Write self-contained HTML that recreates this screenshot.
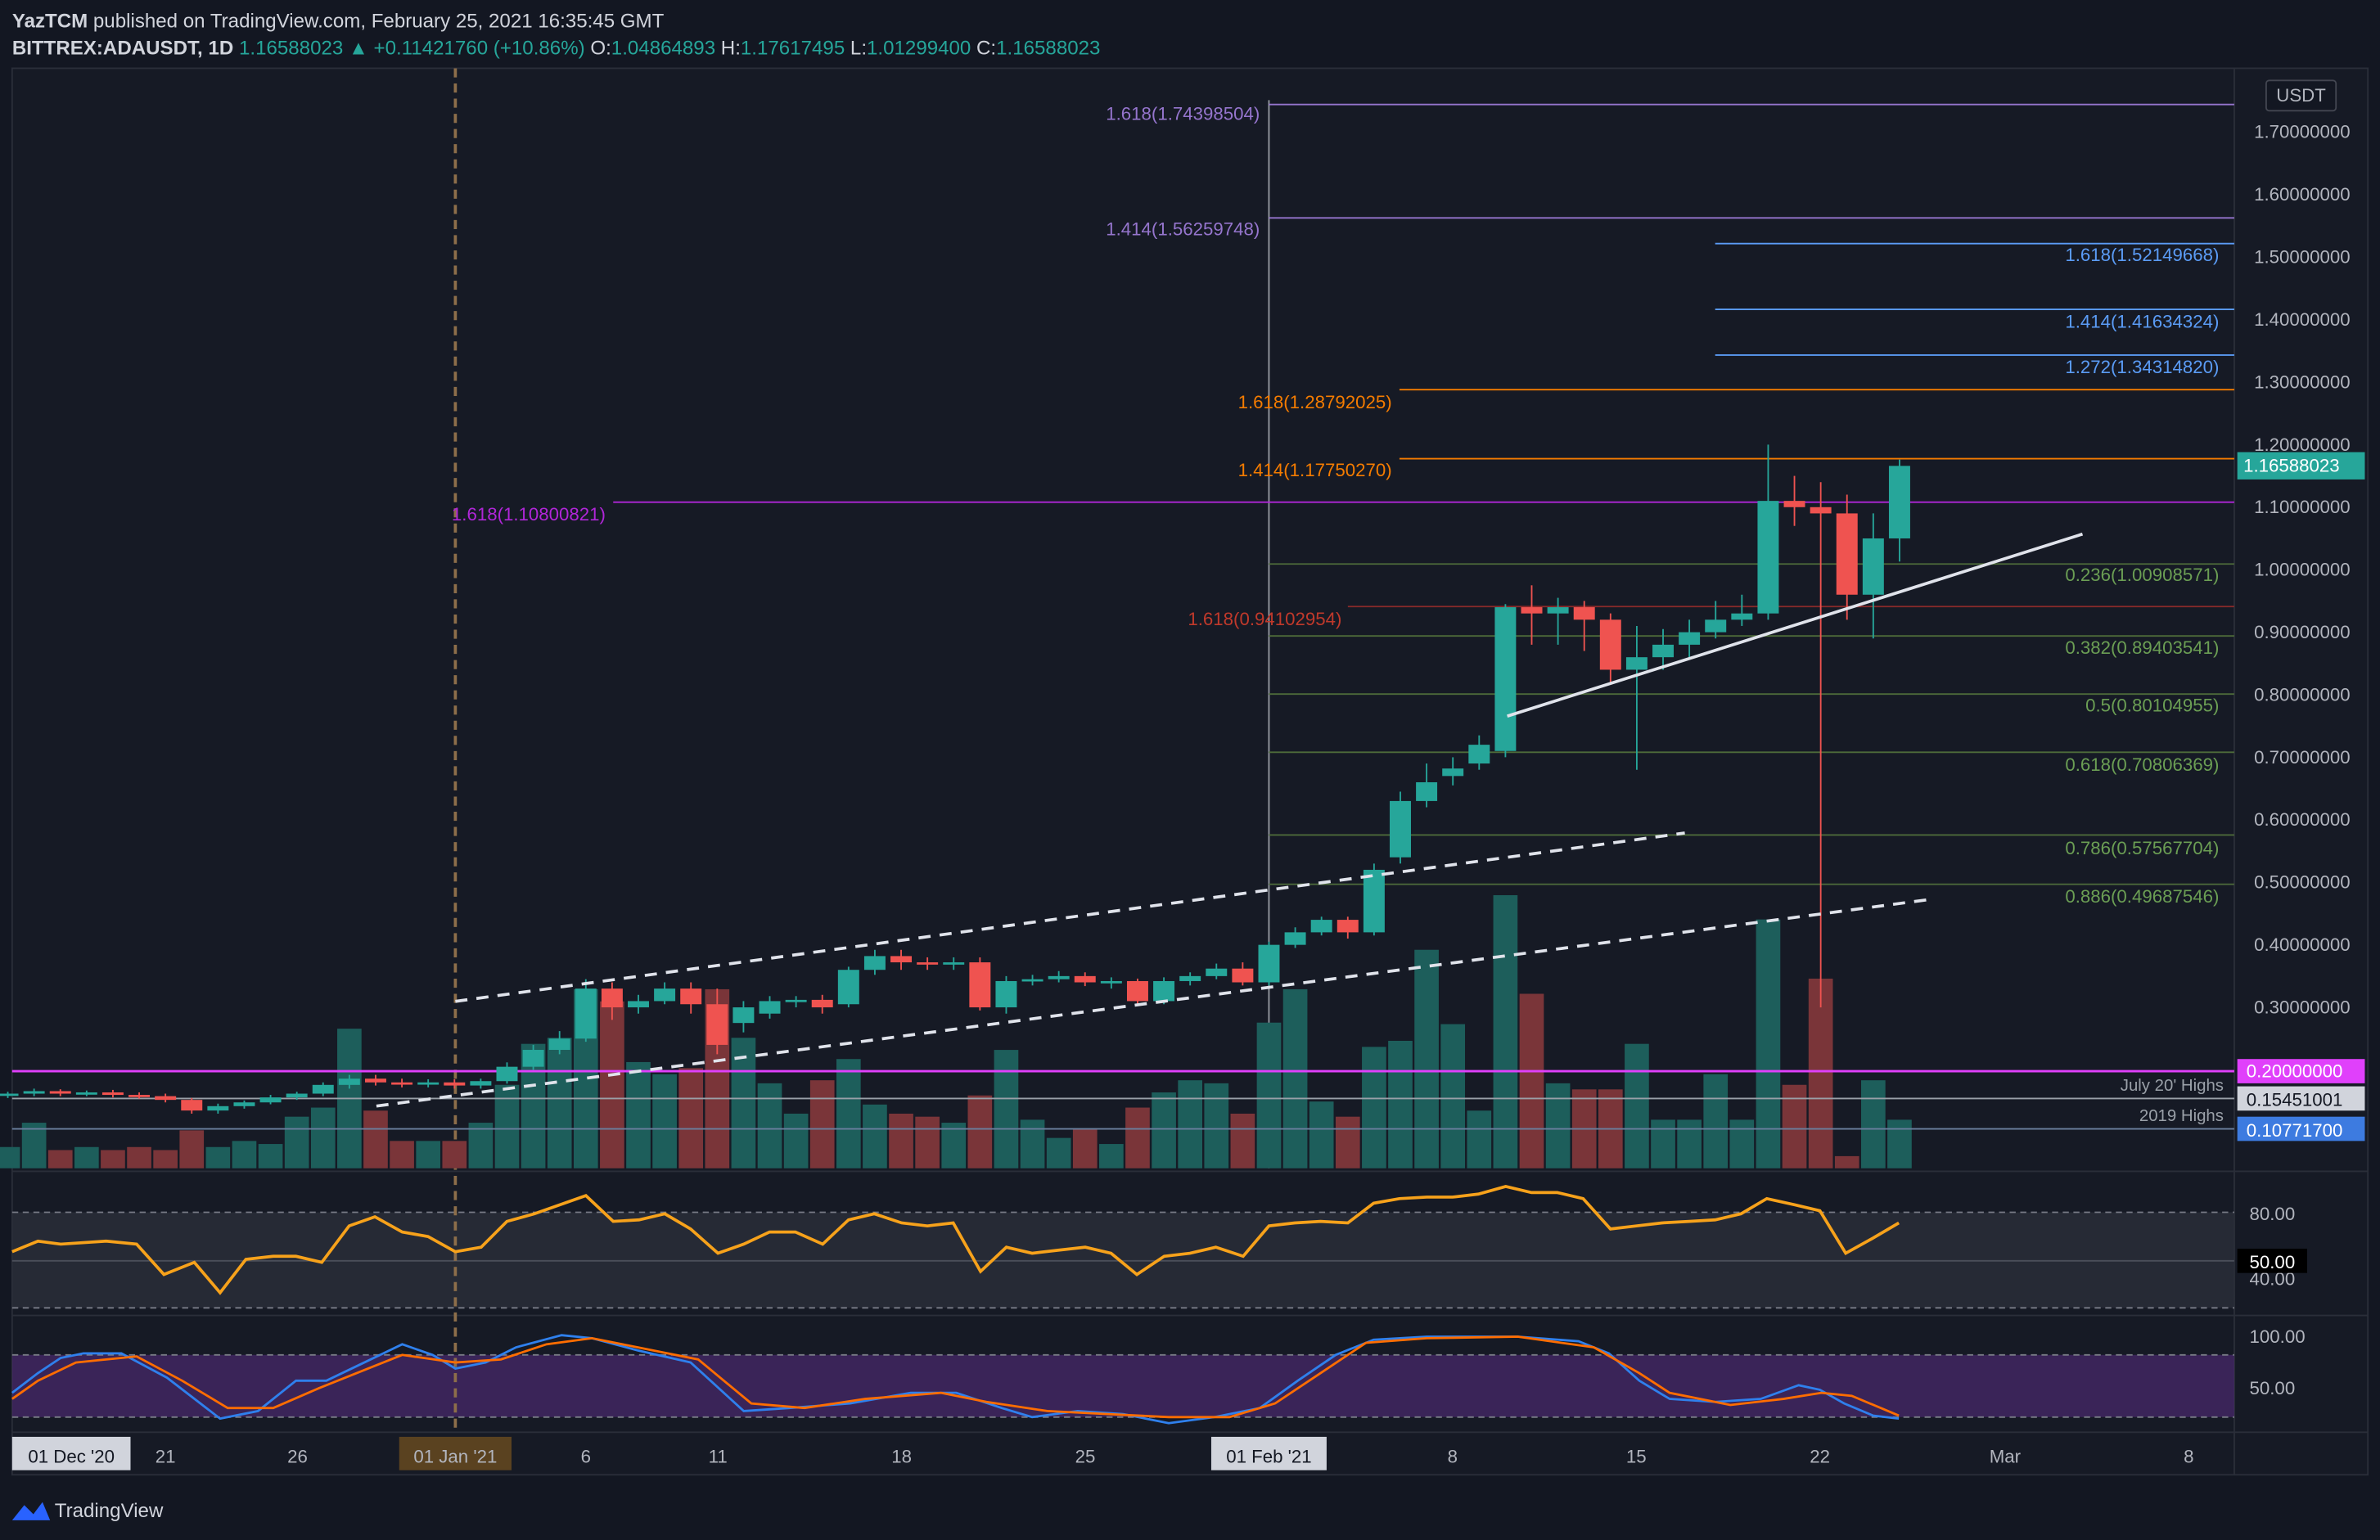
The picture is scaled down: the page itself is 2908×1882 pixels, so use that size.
<!DOCTYPE html>
<html><head><meta charset="utf-8">
<style>
html,body{margin:0;padding:0;background:#131722;}
svg{display:block;font-family:"Liberation Sans",sans-serif;}
</style></head>
<body>
<svg id="s" width="2908" height="1882" viewBox="0 0 1568 1015" preserveAspectRatio="none" xmlns="http://www.w3.org/2000/svg">
<rect x="0" y="0" width="1568" height="1015" fill="#131722"/>
<rect x="8" y="45" width="1552" height="927" fill="#161a25" stroke="#2a2e39"/>
<line x1="1472" y1="45" x2="1472" y2="972" stroke="#2a2e39"/>
<line x1="8" y1="772" x2="1560" y2="772" stroke="#2a2e39"/>
<line x1="8" y1="867" x2="1560" y2="867" stroke="#2a2e39"/>
<line x1="8" y1="944" x2="1560" y2="944" stroke="#2a2e39"/>
<text x="8" y="18" fill="#d1d4dc" font-size="13"><tspan font-weight="bold">YazTCM</tspan> published on TradingView.com, February 25, 2021 16:35:45 GMT</text>
<text x="8" y="36" fill="#d1d4dc" font-size="13"><tspan font-weight="bold">BITTREX:ADAUSDT, 1D</tspan> <tspan fill="#26a69a">1.16588023 ▲ +0.11421760 (+10.86%)</tspan> O:<tspan fill="#26a69a">1.04864893</tspan> H:<tspan fill="#26a69a">1.17617495</tspan> L:<tspan fill="#26a69a">1.01299400</tspan> C:<tspan fill="#26a69a">1.16588023</tspan></text>
<g id="g"></g>
<text x="36" y="1000" fill="#d1d4dc" font-size="13">TradingView</text>
<path d="M8 1002 l8 -10 l6 6 l6 -8 l5 12 z" fill="#2962ff"/>
</svg>
<script>
const NS="http://www.w3.org/2000/svg",g=document.getElementById('g');
function el(t,a,txt){const e=document.createElementNS(NS,t);for(const k in a)e.setAttribute(k,a[k]);if(txt!==undefined)e.textContent=txt;g.appendChild(e);return e;}
const Y=p=>87+(1.7-p)*412.1, X=d=>109+17.31*(d-1);
el('rect',{x:8,y:799,width:1464,height:63,fill:'#2a2e39',opacity:0.8});
el('line',{x1:8,y1:799,x2:1472,y2:799,stroke:'#787b86','stroke-dasharray':'4,3'});
el('line',{x1:8,y1:862,x2:1472,y2:862,stroke:'#787b86','stroke-dasharray':'4,3'});
el('line',{x1:8,y1:831,x2:1472,y2:831,stroke:'#4a4e59'});
el('rect',{x:8,y:893,width:1464,height:41,fill:'#4a2a6e',opacity:0.7});
el('line',{x1:8,y1:893,x2:1472,y2:893,stroke:'#787b86','stroke-dasharray':'4,3'});
el('line',{x1:8,y1:934,x2:1472,y2:934,stroke:'#787b86','stroke-dasharray':'4,3'});
el('line',{x1:300,y1:45,x2:300,y2:944,stroke:'#8d6e4a','stroke-dasharray':'6,4','stroke-width':2});
el('line',{x1:836,y1:66,x2:836,y2:770,stroke:'#9598a1','stroke-width':1});
const C=[[-5,.160,.162,.165,.155,14],[-4,.162,.166,.170,.158,30],[-3,.166,.162,.169,.158,12],[-2,.162,.164,.167,.158,14],[-1,.164,.160,.168,.156,12],[0,.160,.158,.164,.154,14],[1,.158,.152,.162,.148,12],[2,.152,.135,.155,.130,25],[3,.135,.142,.146,.130,14],[4,.142,.148,.151,.138,18],[5,.148,.156,.160,.145,16],[6,.156,.162,.165,.152,34],[7,.162,.176,.180,.158,40],[8,.176,.186,.192,.170,92],[9,.186,.180,.192,.175,38],[10,.180,.178,.186,.172,18],[11,.178,.180,.185,.172,18],[12,.180,.175,.185,.170,18],[13,.175,.182,.186,.170,30],[14,.182,.205,.212,.178,55],[15,.205,.232,.240,.200,82],[16,.232,.250,.262,.225,86],[17,.250,.330,.345,.245,118],[18,.330,.300,.340,.280,110],[19,.300,.310,.320,.290,70],[20,.310,.330,.340,.305,62],[21,.330,.305,.340,.290,66],[22,.305,.240,.330,.225,118],[23,.275,.300,.310,.260,86],[24,.290,.310,.318,.282,56],[25,.310,.312,.318,.300,36],[26,.312,.300,.320,.290,58],[27,.305,.360,.365,.300,72],[28,.360,.382,.392,.352,42],[29,.382,.372,.392,.360,36],[30,.372,.370,.380,.360,34],[31,.370,.372,.380,.360,30],[32,.372,.300,.380,.295,48],[33,.300,.342,.350,.290,78],[34,.342,.345,.352,.335,32],[35,.345,.350,.358,.340,20],[36,.350,.340,.356,.334,26],[37,.340,.342,.348,.330,16],[38,.342,.310,.346,.305,40],[39,.310,.342,.348,.305,50],[40,.342,.350,.356,.335,58],[41,.350,.362,.370,.345,56],[42,.362,.340,.372,.335,36],[43,.340,.400,.405,.335,96],[44,.400,.420,.428,.395,118],[45,.420,.440,.445,.415,44],[46,.440,.420,.445,.410,34],[47,.420,.520,.530,.415,80],[48,.540,.630,.645,.530,84],[49,.630,.660,.690,.620,144],[50,.670,.682,.700,.655,95],[51,.690,.720,.735,.680,38],[52,.710,.940,.945,.700,180],[53,.940,.930,.975,.880,115],[54,.930,.940,.955,.880,56],[55,.940,.920,.950,.870,52],[56,.920,.840,.930,.820,52],[57,.840,.860,.910,.680,82],[58,.860,.880,.905,.840,32],[59,.880,.900,.920,.860,32],[60,.900,.920,.950,.890,62],[61,.920,.930,.960,.910,32],[62,.930,1.110,1.200,.920,164],[63,1.110,1.100,1.150,1.070,55],[64,1.100,1.090,1.140,.300,125],[65,1.090,.960,1.120,.920,8],[66,.960,1.050,1.090,.890,58],[67,1.050,1.166,1.176,1.013,32]];
C.forEach(c=>{const [d,o,cl,h,l,v]=c,x=X(d),up=cl>=o;
 el('rect',{x:x-8,y:770-v,width:16,height:v,fill:up?'#1d5e5b':'#7a3539'});
});
function hl(x1,p,col,w){el('line',{x1:x1,y1:Y(p),x2:1472,y2:Y(p),stroke:col,'stroke-width':w||1});}
hl(836,1.74398504,'#9575cd');hl(836,1.56259748,'#9575cd');
hl(1130,1.52149668,'#5b9cf6');hl(1130,1.41634324,'#5b9cf6');hl(1130,1.34314820,'#5b9cf6');
hl(922,1.28792025,'#f57c00');hl(922,1.17750270,'#f57c00');
hl(404,1.10800821,'#b026d8');
hl(888,0.94102954,'#8b2a2a');
[1.00908571,.89403541,.80104955,.70806369,.57567704,.49687546].forEach(p=>hl(836,p,'#4d6b3a'));
el('line',{x1:8,y1:706,x2:1472,y2:706,stroke:'#e040fb','stroke-width':1.5});
el('line',{x1:8,y1:724,x2:1472,y2:724,stroke:'#9aa0a8'});
el('line',{x1:8,y1:744,x2:1472,y2:744,stroke:'#6a7f9e'});
C.forEach(c=>{const [d,o,cl,h,l]=c,x=X(d),up=cl>=o,col=up?'#26a69a':'#ef5350';
 el('line',{x1:x,y1:Y(h),x2:x,y2:Y(l),stroke:col});
 const t=Y(Math.max(o,cl)),b=Y(Math.min(o,cl));
 el('rect',{x:x-7,y:t,width:14,height:Math.max(1.5,b-t),fill:col});
});
el('line',{x1:993,y1:472,x2:1372,y2:352,stroke:'#e0e3eb','stroke-width':2});
el('line',{x1:300,y1:660,x2:1110,y2:549,stroke:'#e0e3eb','stroke-width':2,'stroke-dasharray':'8,6'});
el('line',{x1:248,y1:729,x2:1270,y2:593,stroke:'#e0e3eb','stroke-width':2,'stroke-dasharray':'8,6'});
function tx(x,y,s,col,anc,sz){el('text',{x:x,y:y,fill:col,'font-size':sz||12,'text-anchor':anc||'start'},s);}
tx(830,79,'1.618(1.74398504)','#9575cd','end');tx(830,155,'1.414(1.56259748)','#9575cd','end');
tx(1462,172,'1.618(1.52149668)','#5b9cf6','end');tx(1462,216,'1.414(1.41634324)','#5b9cf6','end');tx(1462,246,'1.272(1.34314820)','#5b9cf6','end');
tx(917,269,'1.618(1.28792025)','#f57c00','end');tx(917,314,'1.414(1.17750270)','#f57c00','end');
tx(399,343,'1.618(1.10800821)','#b026d8','end');tx(884,412,'1.618(0.94102954)','#c0392b','end');
[['0.236(1.00908571)',383],['0.382(0.89403541)',431],['0.5(0.80104955)',469],['0.618(0.70806369)',508],['0.786(0.57567704)',563],['0.886(0.49687546)',595]].forEach(a=>tx(1462,a[1],a[0],'#6b9e54','end'));
tx(1465,719,"July 20' Highs",'#9aa0a8','end',11);tx(1465,739,'2019 Highs','#9aa0a8','end',11);
for(let p=1.7;p>0.25;p-=0.1){tx(1485,Y(p)+4,p.toFixed(8),'#b2b5be','start',12);}
el('rect',{x:1493,y:53,width:46,height:20,fill:'#131722',stroke:'#434651',rx:2});tx(1516,67,'USDT','#b2b5be','middle',12);
el('rect',{x:1474,y:298,width:84,height:18,fill:'#26a69a'});tx(1478,311,'1.16588023','#fff','start',12);
el('rect',{x:1474,y:698,width:84,height:16,fill:'#e040fb'});tx(1480,710,'0.20000000','#fff','start',12);
el('rect',{x:1474,y:716,width:84,height:16,fill:'#d1d4dc'});tx(1480,729,'0.15451001','#131722','start',12);
el('rect',{x:1474,y:736,width:84,height:16,fill:'#3d7be0'});tx(1480,749,'0.10771700','#fff','start',12);
tx(1482,804,'80.00','#b2b5be','start',12);tx(1482,847,'40.00','#b2b5be','start',12);
el('rect',{x:1474,y:823,width:46,height:16,fill:'#000'});tx(1482,836,'50.00','#fff','start',12);
tx(1482,885,'100.00','#b2b5be','start',12);tx(1482,919,'50.00','#b2b5be','start',12);
const rsi=[[8,825],[25,818],[40,820],[70,818],[90,820],[108,840],[128,832],[145,852],[162,830],[180,828],[195,828],[212,832],[230,808],[247,802],[265,812],[282,815],[300,825],[317,822],[334,805],[352,800],[369,794],[386,788],[404,805],[421,804],[438,800],[455,810],[473,826],[490,820],[507,812],[524,812],[542,820],[559,804],[576,800],[594,806],[611,808],[628,806],[646,838],[663,822],[680,826],[697,824],[715,822],[732,826],[749,840],[767,828],[784,826],[801,822],[819,828],[836,808],[853,806],[870,805],[888,806],[905,793],[922,790],[940,789],[957,789],[974,787],[992,782],[1009,786],[1026,786],[1043,790],[1061,810],[1078,808],[1095,806],[1113,805],[1130,804],[1147,800],[1164,790],[1182,794],[1199,798],[1216,826],[1234,816],[1251,806]];
el('polyline',{points:rsi.map(p=>p.join(',')).join(' '),fill:'none',stroke:'#f7a21b','stroke-width':2});
const k=[[8,918],[25,905],[40,895],[55,892],[80,892],[110,908],[145,935],[170,930],[195,910],[215,910],[240,898],[265,886],[285,893],[300,902],[320,898],[340,888],[370,880],[390,882],[420,890],[455,898],[490,930],[520,928],[560,925],[600,918],[630,918],[660,928],[680,934],[710,930],[740,932],[770,938],[800,934],[830,928],[855,910],[880,893],[905,883],[940,881],[1000,881],[1040,884],[1060,892],[1080,910],[1100,922],[1130,924],[1160,922],[1185,913],[1199,916],[1215,925],[1234,933],[1251,935]];
const dd=[[8,922],[25,910],[50,898],[90,894],[120,910],[150,928],[180,928],[210,915],[240,903],[265,893],[300,898],[330,896],[360,886],[390,882],[420,888],[460,896],[495,925],[530,928],[570,922],[620,918],[650,924],[690,930],[730,932],[770,934],[810,934],[840,925],[870,905],[900,885],[940,882],[1000,881],[1050,888],[1080,905],[1100,918],[1140,926],[1175,922],[1200,918],[1220,920],[1251,933]];
el('polyline',{points:k.map(p=>p.join(',')).join(' '),fill:'none',stroke:'#2f80ed','stroke-width':1.5});
el('polyline',{points:dd.map(p=>p.join(',')).join(' '),fill:'none',stroke:'#ff6d00','stroke-width':1.5});
[['21',109],['26',196],['6',386],['11',473],['18',594],['25',715],['8',957],['15',1078],['22',1199],['Mar',1321],['8',1442]].forEach(a=>tx(a[1],964,a[0],'#b2b5be','middle',12));
el('rect',{x:8,y:947,width:78,height:22,fill:'#d1d4dc'});tx(47,964,"01 Dec '20",'#131722','middle',12);
el('rect',{x:263,y:947,width:74,height:22,fill:'#5a4220'});tx(300,964,"01 Jan '21",'#b2b5be','middle',12);
el('rect',{x:798,y:947,width:76,height:22,fill:'#d1d4dc'});tx(836,964,"01 Feb '21",'#131722','middle',12);
</script>
</body></html>
